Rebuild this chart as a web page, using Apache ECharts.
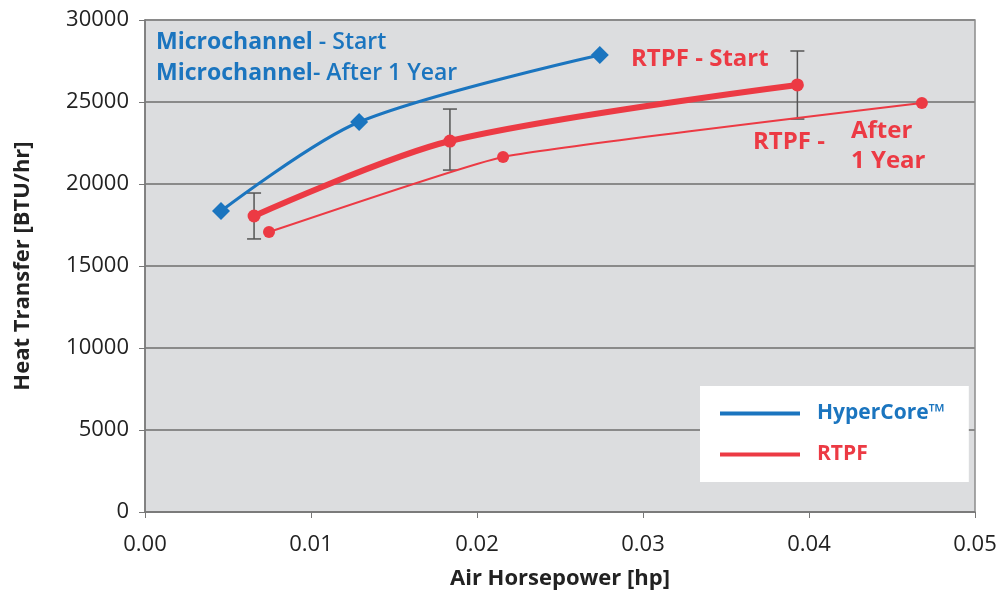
<!DOCTYPE html>
<html>
<head>
<meta charset="utf-8">
<script src="https://cdn.jsdelivr.net/npm/echarts@6/dist/echarts.min.js"></script>
<style>
  html, body { margin: 0; padding: 0; background: #fff; }
  #chart { width: 1007px; height: 597px; }
</style>
</head>
<body>
<div id="chart"></div>
<script>
// data
const hyperX = [0.00458, 0.0129, 0.0274]
const hyperY = [18350, 23780, 27870]

const rtpfStartX = [0.00657, 0.01837, 0.0393]
const rtpfStartY = [18050, 22620, 26040]
const rtpfErrLow = [16650, 20850, 23960]
const rtpfErrHigh = [19450, 24570, 28110]

const rtpfYearX = [0.00747, 0.02157, 0.0468]
const rtpfYearY = [17070, 21650, 24940]

const xTicks = [0, 0.01, 0.02, 0.03, 0.04, 0.05]

const BLUE = '#1b75bf'
const RED = '#ec3a44'
const FONT = 'Open Sans'

const chart = echarts.init(document.getElementById('chart'))

const zip = (xs, ys) => xs.map((x, i) => [x, ys[i]])

const option = {
  animation: false,
  textStyle: { fontFamily: FONT },
  grid: {
    left: 145, right: 32, top: 20, bottom: 85,
    outerBoundsMode: 'none',
    show: true,
    backgroundColor: '#dcdddf',
    borderColor: '#8c8c8c',
    borderWidth: 1.5
  },
  legend: {
    left: 700, top: 386,
    orient: 'vertical',
    backgroundColor: '#fff',
    padding: [17, 24, 17, 20],
    itemWidth: 80, itemHeight: 4, itemGap: 20,
    icon: 'rect',
    data: [
      { name: 'HyperCore™', textStyle: { color: BLUE } },
      { name: 'RTPF', textStyle: { color: RED } }
    ],
    textStyle: { fontSize: 21, fontWeight: 'bold', fontFamily: FONT, padding: [0, 0, 0, 12] }
  },
  xAxis: {
    type: 'value',
    min: 0, max: 0.05, interval: 0.01,
    name: 'Air Horsepower [hp]',
    nameLocation: 'middle',
    nameGap: 56,
    nameTextStyle: { fontSize: 22, fontWeight: 'bold', color: '#222', fontFamily: FONT },
    axisLine: { lineStyle: { color: '#777', width: 1.5 } },
    axisTick: { show: true, length: 6, lineStyle: { color: '#777' } },
    axisLabel: {
      fontSize: 22, color: '#222', margin: 22,
      formatter: v => xTicks.includes(+v.toFixed(2)) ? v.toFixed(2) : ''
    },
    splitLine: { show: false }
  },
  yAxis: {
    type: 'value',
    min: 0, max: 30000, interval: 5000,
    name: 'Heat Transfer [BTU/hr]',
    nameLocation: 'middle',
    nameGap: 111,
    nameTextStyle: { fontSize: 22, fontWeight: 'bold', color: '#222', fontFamily: FONT },
    axisLine: { show: true, lineStyle: { color: '#777', width: 1.5 } },
    axisTick: { show: true, length: 6, lineStyle: { color: '#777' } },
    axisLabel: { fontSize: 22, color: '#222', margin: 16, formatter: v => String(v) },
    splitLine: { lineStyle: { color: '#8a8a8a', width: 2 } }
  },
  series: [
    {
      name: 'HyperCore™',
      type: 'line',
      data: zip(hyperX, hyperY),
      smooth: 0.3,
      symbol: 'diamond',
      symbolSize: 18,
      lineStyle: { color: BLUE, width: 3 },
      itemStyle: { color: BLUE }
    },
    {
      // error bars on the RTPF start line
      name: 'RTPF',
      type: 'custom',
      data: rtpfStartX.map((x, i) => [x, rtpfErrLow[i], rtpfErrHigh[i]]),
      encode: { x: 0, y: [1, 2] },
      renderItem: (params, api) => {
        const lo = api.coord([api.value(0), api.value(1)])
        const hi = api.coord([api.value(0), api.value(2)])
        const w = 7
        const style = { stroke: '#555', lineWidth: 1.5 }
        return {
          type: 'group',
          children: [
            { type: 'line', shape: { x1: lo[0], y1: lo[1], x2: hi[0], y2: hi[1] }, style },
            { type: 'line', shape: { x1: lo[0] - w, y1: lo[1], x2: lo[0] + w, y2: lo[1] }, style },
            { type: 'line', shape: { x1: hi[0] - w, y1: hi[1], x2: hi[0] + w, y2: hi[1] }, style }
          ]
        }
      },
      itemStyle: { color: RED },
      z: 1
    },
    {
      name: 'RTPF',
      type: 'line',
      data: zip(rtpfStartX, rtpfStartY),
      smooth: 0.3,
      symbol: 'circle',
      symbolSize: 13,
      lineStyle: { color: RED, width: 6 },
      itemStyle: { color: RED },
      z: 3
    },
    {
      name: 'RTPF',
      type: 'line',
      data: zip(rtpfYearX, rtpfYearY),
      smooth: 0.12,
      symbol: 'circle',
      symbolSize: 12,
      lineStyle: { color: RED, width: 2 },
      itemStyle: { color: RED },
      z: 3
    }
  ],
  graphic: [
    {
      type: 'text', left: 156, top: 27,
      style: {
        text: '{b|Microchannel} - Start\n{b|Microchannel}- After 1 Year',
        fill: BLUE, font: '600 23px "Open Sans"', lineHeight: 31,
        rich: { b: { fontWeight: 'bold', fontSize: 23, fill: BLUE, fontFamily: FONT } }
      }
    },
    {
      type: 'text', left: 631, top: 47,
      style: { text: 'RTPF - Start', fill: RED, font: 'bold 24px "Open Sans"' }
    },
    {
      type: 'text', left: 753, top: 130,
      style: { text: 'RTPF -', fill: RED, font: 'bold 24px "Open Sans"' }
    },
    {
      type: 'text', left: 851, top: 116,
      style: { text: 'After\n1 Year', fill: RED, font: 'bold 24px "Open Sans"', align: 'center', lineHeight: 30, width: 80 }
    }
  ]
}

chart.setOption(option)
</script>
</body>
</html>
